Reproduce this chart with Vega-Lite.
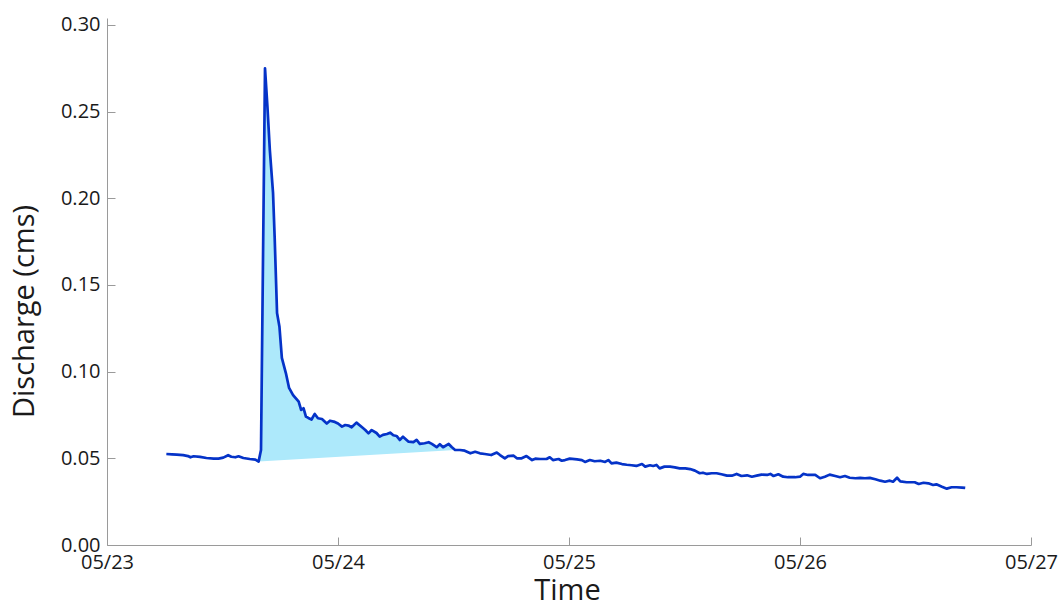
{
  "$schema": "https://vega.github.io/schema/vega-lite/v6.json",
  "width": 924,
  "height": 527,
  "autosize": {"type": "none"},
  "padding": {"left": 107, "top": 18, "right": 32, "bottom": 62},
  "background": "white",
  "config": {
    "view": {"stroke": null},
    "font": "Open Sans",
    "axis": {
      "domainColor": "#9a9a9a",
      "domainWidth": 1,
      "tickColor": "#9a9a9a",
      "tickSize": -8,
      "tickWidth": 1,
      "grid": false,
      "labelColor": "#1a1a1a",
      "labelFont": "Open Sans",
      "labelFontSize": 20,
      "titleColor": "#1a1a1a",
      "titleFont": "Open Sans",
      "titleFontSize": 29,
      "titleFontWeight": "normal",
      "zindex": 1
    }
  },
  "datasets": {
    "flow": [
      {"t": "2020-05-23T06:10", "q": 0.0525},
      {"t": "2020-05-23T06:45", "q": 0.0523},
      {"t": "2020-05-23T07:15", "q": 0.0521},
      {"t": "2020-05-23T07:55", "q": 0.0518},
      {"t": "2020-05-23T08:25", "q": 0.0513},
      {"t": "2020-05-23T08:40", "q": 0.0506},
      {"t": "2020-05-23T09:00", "q": 0.0512},
      {"t": "2020-05-23T09:40", "q": 0.0508},
      {"t": "2020-05-23T10:20", "q": 0.0502},
      {"t": "2020-05-23T11:05", "q": 0.0498},
      {"t": "2020-05-23T11:35", "q": 0.0498},
      {"t": "2020-05-23T12:05", "q": 0.0504},
      {"t": "2020-05-23T12:35", "q": 0.0518},
      {"t": "2020-05-23T12:55", "q": 0.0509},
      {"t": "2020-05-23T13:20", "q": 0.0506},
      {"t": "2020-05-23T13:40", "q": 0.0512},
      {"t": "2020-05-23T14:10", "q": 0.0502},
      {"t": "2020-05-23T14:50", "q": 0.0496},
      {"t": "2020-05-23T15:25", "q": 0.0492},
      {"t": "2020-05-23T15:45", "q": 0.0481},
      {"t": "2020-05-23T16:00", "q": 0.0548},
      {"t": "2020-05-23T16:25", "q": 0.2750},
      {"t": "2020-05-23T16:40", "q": 0.2529},
      {"t": "2020-05-23T16:55", "q": 0.2279},
      {"t": "2020-05-23T17:15", "q": 0.2031},
      {"t": "2020-05-23T17:25", "q": 0.1779},
      {"t": "2020-05-23T17:40", "q": 0.1338},
      {"t": "2020-05-23T17:55", "q": 0.1259},
      {"t": "2020-05-23T18:10", "q": 0.1079},
      {"t": "2020-05-23T18:35", "q": 0.0992},
      {"t": "2020-05-23T18:55", "q": 0.0906},
      {"t": "2020-05-23T19:20", "q": 0.0865},
      {"t": "2020-05-23T19:55", "q": 0.0827},
      {"t": "2020-05-23T20:10", "q": 0.0779},
      {"t": "2020-05-23T20:25", "q": 0.0789},
      {"t": "2020-05-23T20:40", "q": 0.0741},
      {"t": "2020-05-23T20:55", "q": 0.0733},
      {"t": "2020-05-23T21:15", "q": 0.0724},
      {"t": "2020-05-23T21:35", "q": 0.0756},
      {"t": "2020-05-23T21:55", "q": 0.0731},
      {"t": "2020-05-23T22:20", "q": 0.0727},
      {"t": "2020-05-23T22:50", "q": 0.0701},
      {"t": "2020-05-23T23:10", "q": 0.0717},
      {"t": "2020-05-23T23:40", "q": 0.0710},
      {"t": "2020-05-24T00:00", "q": 0.0701},
      {"t": "2020-05-24T00:25", "q": 0.0683},
      {"t": "2020-05-24T00:45", "q": 0.0692},
      {"t": "2020-05-24T01:05", "q": 0.0689},
      {"t": "2020-05-24T01:25", "q": 0.0679},
      {"t": "2020-05-24T01:55", "q": 0.0706},
      {"t": "2020-05-24T02:30", "q": 0.0679},
      {"t": "2020-05-24T02:50", "q": 0.0663},
      {"t": "2020-05-24T03:10", "q": 0.0644},
      {"t": "2020-05-24T03:30", "q": 0.0663},
      {"t": "2020-05-24T04:00", "q": 0.0646},
      {"t": "2020-05-24T04:20", "q": 0.0625},
      {"t": "2020-05-24T04:40", "q": 0.0635},
      {"t": "2020-05-24T05:05", "q": 0.0640},
      {"t": "2020-05-24T05:25", "q": 0.0648},
      {"t": "2020-05-24T05:45", "q": 0.0633},
      {"t": "2020-05-24T06:05", "q": 0.0629},
      {"t": "2020-05-24T06:25", "q": 0.0606},
      {"t": "2020-05-24T06:45", "q": 0.0625},
      {"t": "2020-05-24T07:20", "q": 0.0596},
      {"t": "2020-05-24T07:50", "q": 0.0593},
      {"t": "2020-05-24T08:10", "q": 0.0606},
      {"t": "2020-05-24T08:30", "q": 0.0583},
      {"t": "2020-05-24T09:00", "q": 0.0587},
      {"t": "2020-05-24T09:25", "q": 0.0593},
      {"t": "2020-05-24T09:45", "q": 0.0583},
      {"t": "2020-05-24T10:15", "q": 0.0564},
      {"t": "2020-05-24T10:35", "q": 0.0581},
      {"t": "2020-05-24T10:55", "q": 0.0564},
      {"t": "2020-05-24T11:30", "q": 0.0583},
      {"t": "2020-05-24T11:50", "q": 0.0564},
      {"t": "2020-05-24T12:10", "q": 0.0548},
      {"t": "2020-05-24T12:40", "q": 0.0548},
      {"t": "2020-05-24T13:10", "q": 0.0544},
      {"t": "2020-05-24T13:45", "q": 0.0529},
      {"t": "2020-05-24T14:15", "q": 0.0538},
      {"t": "2020-05-24T14:45", "q": 0.0529},
      {"t": "2020-05-24T15:15", "q": 0.0525},
      {"t": "2020-05-24T15:55", "q": 0.0519},
      {"t": "2020-05-24T16:30", "q": 0.0533},
      {"t": "2020-05-24T16:50", "q": 0.0519},
      {"t": "2020-05-24T17:20", "q": 0.0500},
      {"t": "2020-05-24T17:40", "q": 0.0513},
      {"t": "2020-05-24T18:15", "q": 0.0515},
      {"t": "2020-05-24T18:35", "q": 0.0500},
      {"t": "2020-05-24T19:05", "q": 0.0500},
      {"t": "2020-05-24T19:35", "q": 0.0513},
      {"t": "2020-05-24T20:10", "q": 0.0490},
      {"t": "2020-05-24T20:30", "q": 0.0498},
      {"t": "2020-05-24T21:00", "q": 0.0496},
      {"t": "2020-05-24T21:40", "q": 0.0496},
      {"t": "2020-05-24T22:00", "q": 0.0506},
      {"t": "2020-05-24T22:20", "q": 0.0490},
      {"t": "2020-05-24T22:55", "q": 0.0496},
      {"t": "2020-05-24T23:15", "q": 0.0486},
      {"t": "2020-05-24T23:35", "q": 0.0490},
      {"t": "2020-05-25T00:05", "q": 0.0498},
      {"t": "2020-05-25T00:50", "q": 0.0494},
      {"t": "2020-05-25T01:20", "q": 0.0490},
      {"t": "2020-05-25T01:40", "q": 0.0479},
      {"t": "2020-05-25T02:10", "q": 0.0490},
      {"t": "2020-05-25T02:40", "q": 0.0483},
      {"t": "2020-05-25T03:15", "q": 0.0486},
      {"t": "2020-05-25T03:45", "q": 0.0479},
      {"t": "2020-05-25T04:05", "q": 0.0490},
      {"t": "2020-05-25T04:25", "q": 0.0471},
      {"t": "2020-05-25T04:55", "q": 0.0475},
      {"t": "2020-05-25T05:30", "q": 0.0467},
      {"t": "2020-05-25T06:00", "q": 0.0463},
      {"t": "2020-05-25T06:30", "q": 0.0460},
      {"t": "2020-05-25T07:00", "q": 0.0456},
      {"t": "2020-05-25T07:35", "q": 0.0467},
      {"t": "2020-05-25T07:55", "q": 0.0452},
      {"t": "2020-05-25T08:25", "q": 0.0460},
      {"t": "2020-05-25T08:45", "q": 0.0456},
      {"t": "2020-05-25T09:05", "q": 0.0462},
      {"t": "2020-05-25T09:25", "q": 0.0442},
      {"t": "2020-05-25T09:55", "q": 0.0452},
      {"t": "2020-05-25T10:30", "q": 0.0452},
      {"t": "2020-05-25T11:00", "q": 0.0448},
      {"t": "2020-05-25T11:30", "q": 0.0442},
      {"t": "2020-05-25T12:05", "q": 0.0442},
      {"t": "2020-05-25T12:35", "q": 0.0438},
      {"t": "2020-05-25T13:05", "q": 0.0429},
      {"t": "2020-05-25T13:35", "q": 0.0414},
      {"t": "2020-05-25T13:55", "q": 0.0417},
      {"t": "2020-05-25T14:20", "q": 0.0410},
      {"t": "2020-05-25T14:50", "q": 0.0414},
      {"t": "2020-05-25T15:20", "q": 0.0414},
      {"t": "2020-05-25T15:50", "q": 0.0408},
      {"t": "2020-05-25T16:25", "q": 0.0400},
      {"t": "2020-05-25T16:55", "q": 0.0400},
      {"t": "2020-05-25T17:25", "q": 0.0410},
      {"t": "2020-05-25T17:55", "q": 0.0398},
      {"t": "2020-05-25T18:30", "q": 0.0402},
      {"t": "2020-05-25T19:00", "q": 0.0394},
      {"t": "2020-05-25T19:30", "q": 0.0400},
      {"t": "2020-05-25T20:00", "q": 0.0406},
      {"t": "2020-05-25T20:35", "q": 0.0404},
      {"t": "2020-05-25T20:55", "q": 0.0410},
      {"t": "2020-05-25T21:15", "q": 0.0398},
      {"t": "2020-05-25T21:45", "q": 0.0408},
      {"t": "2020-05-25T22:15", "q": 0.0394},
      {"t": "2020-05-25T22:45", "q": 0.0391},
      {"t": "2020-05-25T23:30", "q": 0.0391},
      {"t": "2020-05-26T00:00", "q": 0.0394},
      {"t": "2020-05-26T00:20", "q": 0.0410},
      {"t": "2020-05-26T00:50", "q": 0.0404},
      {"t": "2020-05-26T01:35", "q": 0.0404},
      {"t": "2020-05-26T02:05", "q": 0.0385},
      {"t": "2020-05-26T02:35", "q": 0.0394},
      {"t": "2020-05-26T03:05", "q": 0.0406},
      {"t": "2020-05-26T03:40", "q": 0.0398},
      {"t": "2020-05-26T04:10", "q": 0.0391},
      {"t": "2020-05-26T04:40", "q": 0.0398},
      {"t": "2020-05-26T05:10", "q": 0.0388},
      {"t": "2020-05-26T05:45", "q": 0.0385},
      {"t": "2020-05-26T06:15", "q": 0.0387},
      {"t": "2020-05-26T06:45", "q": 0.0385},
      {"t": "2020-05-26T07:15", "q": 0.0387},
      {"t": "2020-05-26T07:50", "q": 0.0379},
      {"t": "2020-05-26T08:20", "q": 0.0371},
      {"t": "2020-05-26T08:50", "q": 0.0365},
      {"t": "2020-05-26T09:20", "q": 0.0371},
      {"t": "2020-05-26T09:40", "q": 0.0365},
      {"t": "2020-05-26T10:05", "q": 0.0388},
      {"t": "2020-05-26T10:25", "q": 0.0367},
      {"t": "2020-05-26T11:05", "q": 0.0362},
      {"t": "2020-05-26T11:55", "q": 0.0362},
      {"t": "2020-05-26T12:20", "q": 0.0352},
      {"t": "2020-05-26T12:50", "q": 0.0359},
      {"t": "2020-05-26T13:20", "q": 0.0356},
      {"t": "2020-05-26T13:50", "q": 0.0346},
      {"t": "2020-05-26T14:10", "q": 0.0350},
      {"t": "2020-05-26T14:45", "q": 0.0336},
      {"t": "2020-05-26T15:15", "q": 0.0325},
      {"t": "2020-05-26T15:45", "q": 0.0333},
      {"t": "2020-05-26T16:15", "q": 0.0333},
      {"t": "2020-05-26T16:50", "q": 0.0331},
      {"t": "2020-05-26T17:10", "q": 0.0329}
    ]
  },
  "data": {"name": "flow"},
  "encoding": {
    "x": {
      "field": "t",
      "type": "temporal",
      "title": "Time",
      "scale": {"domain": ["2020-05-23T00:00", "2020-05-27T00:00"], "nice": false},
      "axis": {
        "values": ["2020-05-23T00:00", "2020-05-24T00:00", "2020-05-25T00:00", "2020-05-26T00:00", "2020-05-27T00:00"],
        "format": "%m/%d",
        "labelPadding": 15,
        "labelFlush": false,
        "titleBaseline": "alphabetic",
        "titleY": 54,
        "titleX": 460
      }
    },
    "y": {
      "field": "q",
      "type": "quantitative",
      "title": "Discharge (cms)",
      "scale": {"domain": [0, 0.304], "nice": false, "zero": true},
      "axis": {
        "values": [0, 0.05, 0.1, 0.15, 0.2, 0.25, 0.3],
        "format": ".2f",
        "labelPadding": 15,
        "titleX": -68,
        "titleY": 293
      }
    }
  },
  "layer": [
    {
      "transform": [
        {"filter": "time(datum.t) >= time('2020-05-23T15:45') && time(datum.t) <= time('2020-05-24T12:10')"}
      ],
      "mark": {"type": "line", "fill": "#ADE9FB", "strokeOpacity": 0, "interpolate": "linear-closed"}
    },
    {
      "mark": {"type": "line", "color": "#0533C8", "strokeWidth": 2.7, "strokeJoin": "round"}
    }
  ]
}
